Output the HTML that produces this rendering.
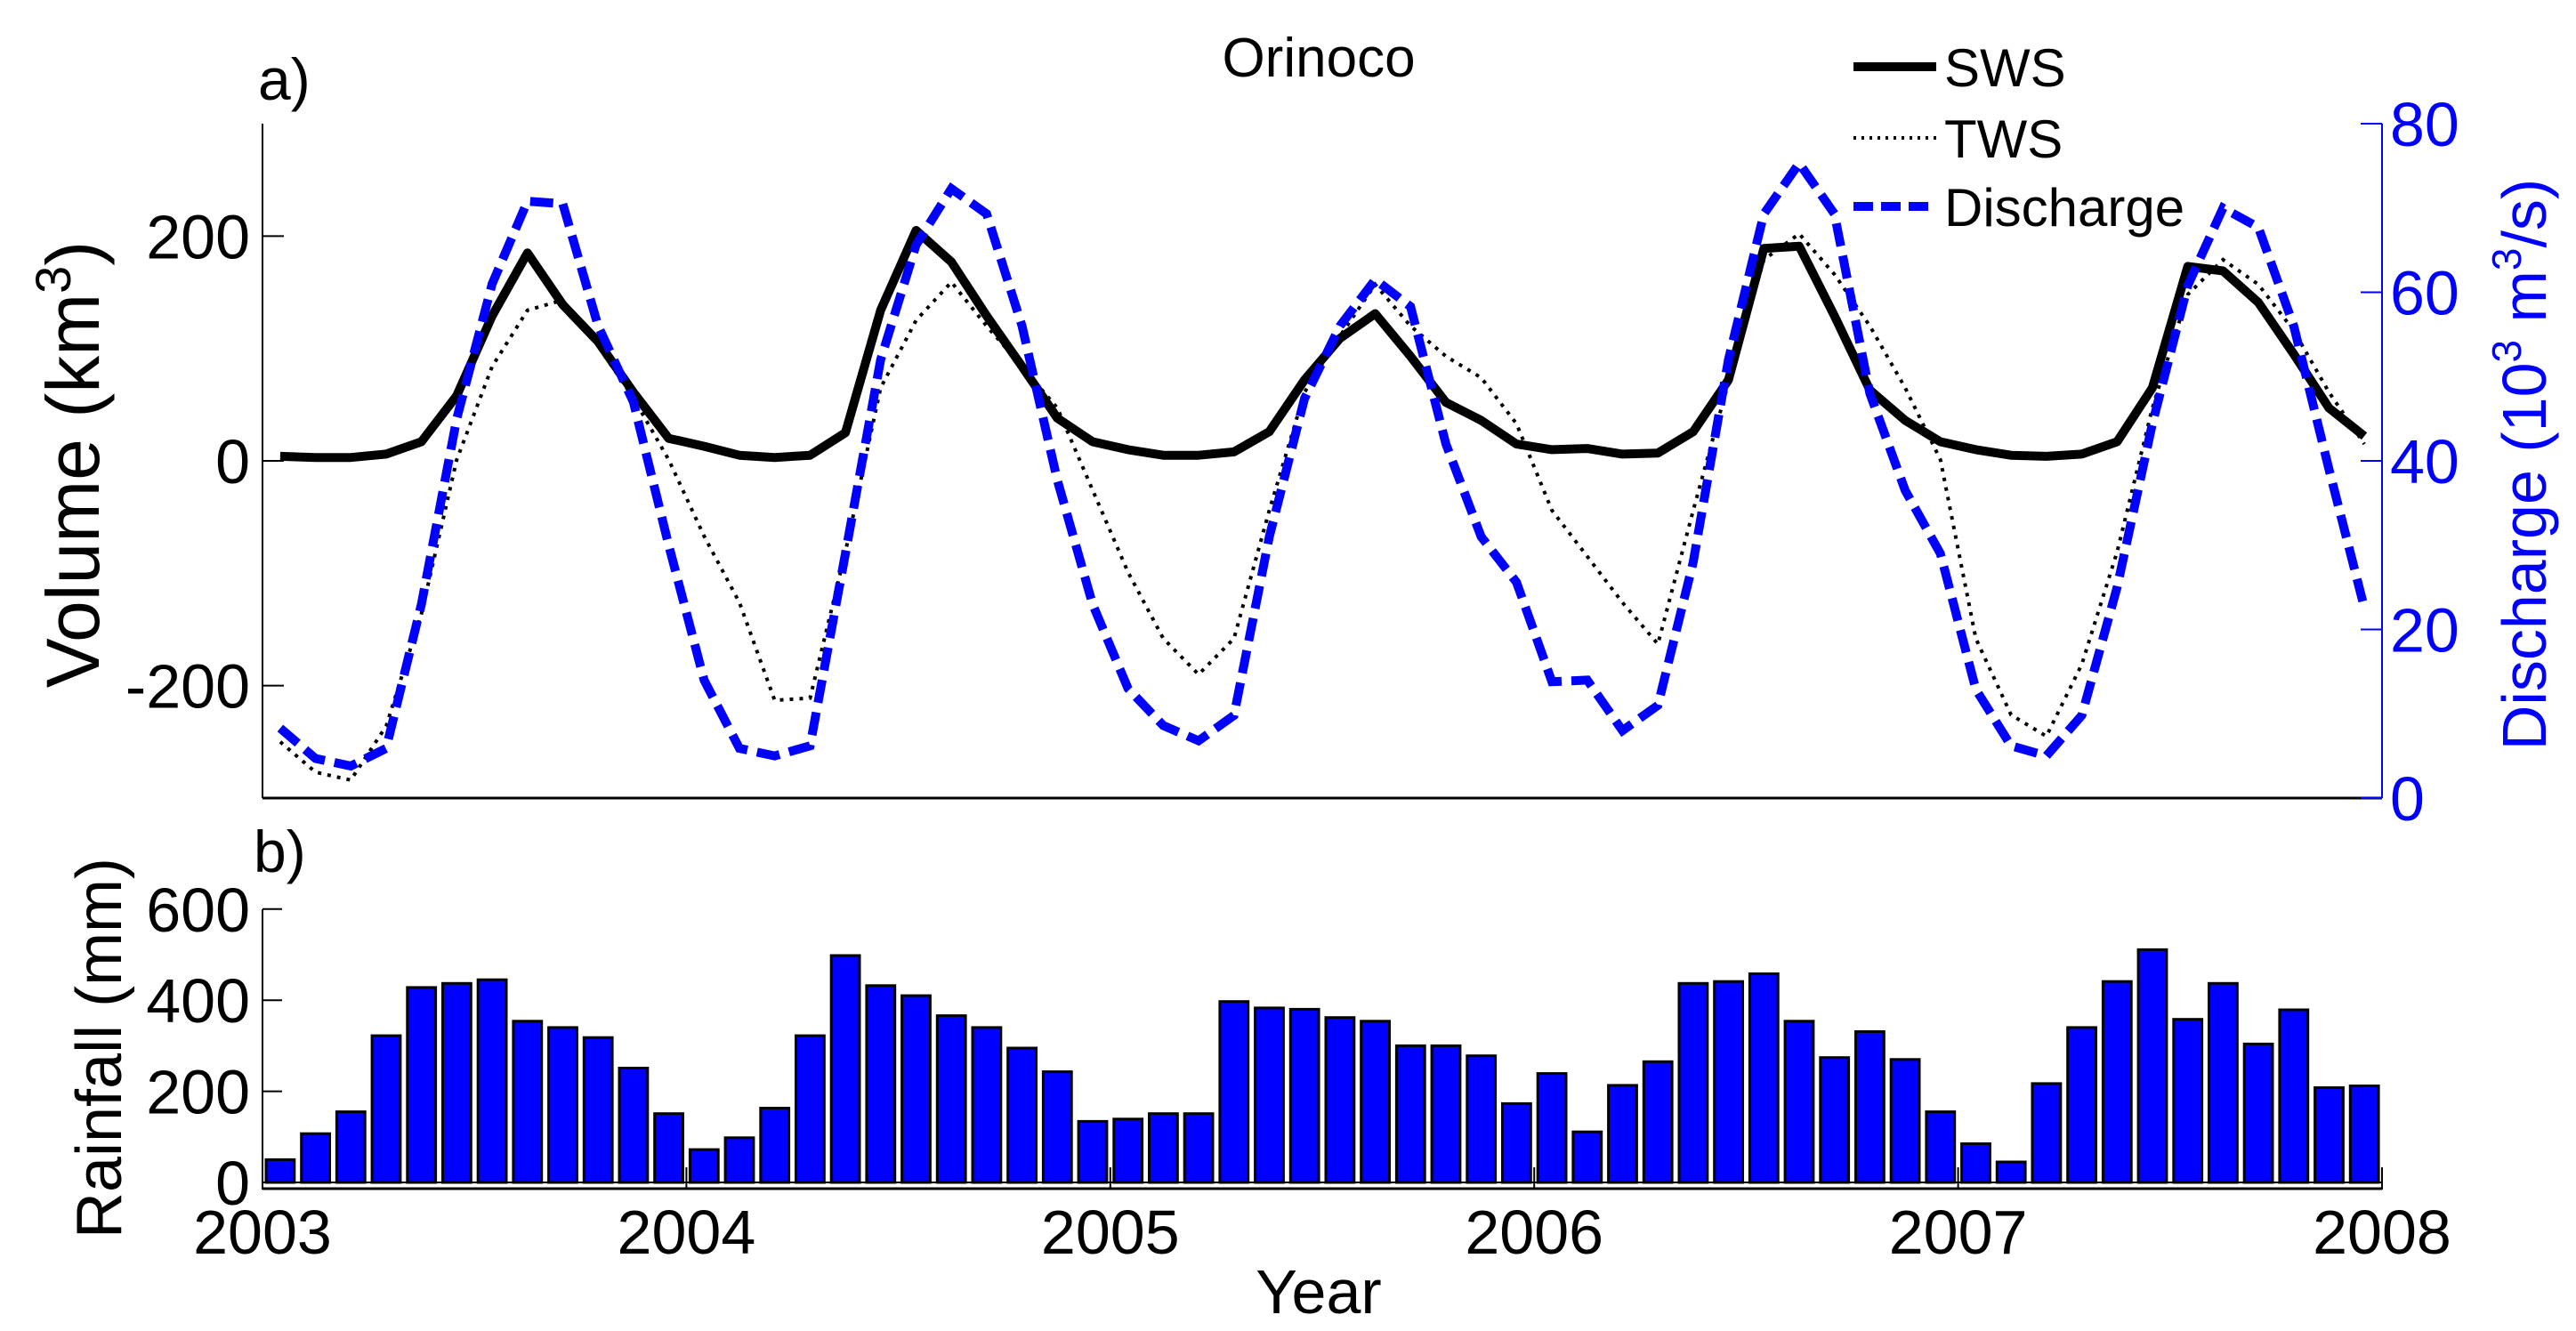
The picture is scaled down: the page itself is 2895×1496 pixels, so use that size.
<!DOCTYPE html>
<html><head><meta charset="utf-8"><style>
html,body{margin:0;padding:0;background:#fff;}
svg{display:block;font-family:"Liberation Sans",Arial,sans-serif;}
</style></head><body>
<svg id="chart" width="2895" height="1496" viewBox="0 0 2895 1496" xmlns="http://www.w3.org/2000/svg">
<g id="topPanel"></g>
<g id="botPanel"></g>
</svg>
<script>
// ----- data -----
const swsValues = [4,3,3,6,17,58,129,185,139,106,61,20,13,5,3,5,25,134,205,177,129,84,38,17,10,5,5,8,26,72,109,131,93,52,36,15,10,11,6,7,26,72,189,191,129,63,36,17,10,5,4,6,17,65,173,169,141,95,47,22];
const twsValues = [-250,-277,-284,-236,-136,1,84,134,143,102,56,1,-67,-126,-213,-211,-81,65,125,159,120,84,47,-26,-99,-158,-190,-158,-44,61,111,157,120,93,74,33,-44,-85,-126,-163,-44,70,179,202,166,120,65,1,-158,-226,-245,-181,-81,47,148,179,157,116,61,15];
const dischargeValues = [8.3,4.7,3.8,5.9,23,45,61,70.8,70.5,56,47,30,14,5.9,5,6.2,29,52,65.6,72.3,69.3,56,37.7,23,13,8.6,6.8,9.8,31,47.4,56,61.5,58.3,42,31,25.6,13.8,14,8,11,28,52,69.3,75.3,69.3,48,36.5,29,12.9,6.2,5,9.8,25,44.4,60.8,70,67.7,56,39,22.6];
const rainfallValues = [50,107,155,322,428,437,445,354,340,318,251,151,72,98,163,322,498,432,410,366,340,295,243,134,139,151,151,397,383,380,362,354,300,300,278,173,239,111,213,265,437,441,458,354,274,331,270,155,85,45,217,340,441,511,358,437,304,379,208,212];
const yearTicks = [2003,2004,2005,2006,2007,2008];
const volumeTicks = [-200,0,200];
const dischargeTicks = [0,20,40,60,80];
const rainTicks = [0,200,400,600];

// ----- layout -----
const NS="http://www.w3.org/2000/svg";
const X0=295, X1=2677;
const xYear = t => X0 + (t-2003)/5*(X1-X0);
const xMonth = i => xYear(2003 + (i+0.5)/12);
const yVol = v => 518 - v*1.2633;
const yDis = q => 897 - q/80*(897-139);
const yRain = r => 1329 - r*0.512;

function mk(parent, tag, attrs, text){
  const el=document.createElementNS(NS,tag);
  for(const k in attrs) el.setAttribute(k, attrs[k]);
  if(text!==undefined) el.textContent=text;
  parent.appendChild(el); return el;
}
const topG=document.getElementById('topPanel'), botG=document.getElementById('botPanel');

let e;
e=mk(topG,'line',{x1:X0,y1:139,x2:X0,y2:897,stroke:'#000','stroke-width':2});


e=mk(topG,'line',{x1:X0,y1:897,x2:X1,y2:897,stroke:'#000','stroke-width':3});


e=mk(topG,'line',{x1:X1,y1:139,x2:X1,y2:897,stroke:'#0000ff','stroke-width':2});


volumeTicks.forEach(v=>{
  const y=yVol(v);
  e=mk(topG,'line',{x1:X0,y1:y,x2:X0+24,y2:y,stroke:'#000','stroke-width':2});
  
  
  e=mk(topG,'text',{x:281,y:y+25,'font-size':70,'text-anchor':'end',fill:'#000'},String(v));
  
  
});
dischargeTicks.forEach(q=>{
  const y=yDis(q);
  e=mk(topG,'line',{x1:X1-24,y1:y,x2:X1,y2:y,stroke:'#0000ff','stroke-width':2});
  
  
  e=mk(topG,'text',{x:2686,y:y+25,'font-size':70,fill:'#0000ff'},String(q));
  
  
});

function pts(vals, fy){ return vals.map((v,i)=>xMonth(i).toFixed(1)+','+fy(v).toFixed(1)).join(' '); }
e=mk(topG,'polyline',{points:pts(twsValues,yVol),fill:'none',stroke:'#000','stroke-width':4,'stroke-dasharray':'4 7'});


e=mk(topG,'polyline',{points:pts(swsValues,yVol),fill:'none',stroke:'#000','stroke-width':10,'stroke-linejoin':'round'});


e=mk(topG,'polyline',{points:pts(dischargeValues,yDis),fill:'none',stroke:'#0000ff','stroke-width':10,'stroke-dasharray':'26 11'});



const bw=(X1-X0)/60*0.8;
rainfallValues.forEach((r,i)=>{
  const x=xMonth(i)-bw/2, y=yRain(r);
  e=mk(botG,'rect',{x:x.toFixed(1),y:y.toFixed(1),width:bw.toFixed(1),height:(1329-y).toFixed(1),fill:'#0000ff',stroke:'#000','stroke-width':3});
  
  
});
e=mk(botG,'line',{x1:X0,y1:1022,x2:X0,y2:1337,stroke:'#000','stroke-width':2});


e=mk(botG,'line',{x1:X0,y1:1329,x2:X1,y2:1329,stroke:'#000','stroke-width':2});


e=mk(botG,'line',{x1:X0,y1:1336,x2:X1,y2:1336,stroke:'#000','stroke-width':3});


e=mk(botG,'line',{x1:X1,y1:1312,x2:X1,y2:1337,stroke:'#000','stroke-width':2});


rainTicks.forEach(r=>{
  const y=yRain(r);
  e=mk(botG,'line',{x1:X0,y1:y,x2:X0+22,y2:y,stroke:'#000','stroke-width':2});
  
  
  e=mk(botG,'text',{x:281,y:y+25,'font-size':70,'text-anchor':'end',fill:'#000'},String(r));
  
  
});
yearTicks.forEach(t=>{
  const x=xYear(t);
  e=mk(botG,'line',{x1:x,y1:1312,x2:x,y2:1336,stroke:'#000','stroke-width':2});
  
  
  e=mk(botG,'text',{x:x,y:1409,'font-size':70,'text-anchor':'middle',fill:'#000'},String(t));
  
  
});
</script>
<script>
const svgEl=document.getElementById('chart');
function lab(html){ svgEl.insertAdjacentHTML('beforeend', html); }
lab('<text x="1482" y="86" font-size="62" text-anchor="middle">Orinoco</text>');
lab('<text x="290" y="112" font-size="66">a)</text>');
lab('<text x="285" y="980" font-size="66">b)</text>');
lab('<text transform="translate(111,522) rotate(-90)" font-size="84" text-anchor="middle">Volume (km<tspan dy="-32" font-size="56">3</tspan><tspan dy="32">)</tspan></text>');
lab('<text transform="translate(2861,522) rotate(-90)" font-size="70" text-anchor="middle" fill="#0000ff">Discharge (10<tspan dy="-28" font-size="46">3</tspan><tspan dy="28"> m</tspan><tspan dy="-28" font-size="46">3</tspan><tspan dy="28">/s)</tspan></text>');
lab('<text transform="translate(136,1178) rotate(-90)" font-size="72" text-anchor="middle">Rainfall (mm)</text>');
lab('<text x="1482" y="1476" font-size="70" text-anchor="middle">Year</text>');
lab('<g>'+
 '<line x1="2083" y1="75" x2="2176" y2="75" stroke="#000" stroke-width="10"/>'+
 '<text x="2185" y="97" font-size="60">SWS</text>'+
 '<line x1="2083" y1="155" x2="2176" y2="155" stroke="#000" stroke-width="4" stroke-dasharray="3 6"/>'+
 '<text x="2185" y="177" font-size="60">TWS</text>'+
 '<line x1="2083" y1="232" x2="2176" y2="232" stroke="#0000ff" stroke-width="10" stroke-dasharray="22 9"/>'+
 '<text x="2185" y="254" font-size="60">Discharge</text></g>');
</script>
</body></html>
